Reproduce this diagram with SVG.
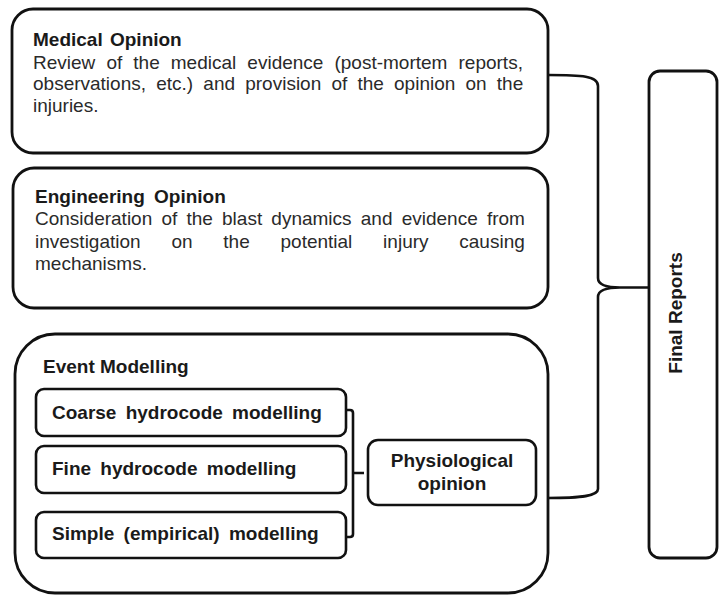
<svg xmlns="http://www.w3.org/2000/svg" width="719" height="595" viewBox="0 0 719 595">
<style>
.box{fill:#fff;stroke:#111;stroke-width:2.8}
.sub{fill:#fff;stroke:#111;stroke-width:2.6}
.con{fill:none;stroke:#111;stroke-width:2.6;stroke-linejoin:round}
text{font-family:"Liberation Sans",Arial,sans-serif;font-size:19px}
.t{font-weight:bold;fill:#1a1a1a}
.b{fill:#2a2a2a}
</style>
<rect width="719" height="595" fill="#fff"/>
<g id="medical">
<rect class="box" x="12" y="9" width="536" height="144" rx="21"/>
<text class="t" x="33" y="45.5" word-spacing="2">Medical Opinion</text>
<text class="b" x="33" y="68.5" word-spacing="5.8">Review of the medical evidence (post-mortem reports,</text>
<text class="b" x="33" y="90" word-spacing="4.9">observations, etc.) and provision of the opinion on the</text>
<text class="b" x="33" y="111.5">injuries.</text>
</g>
<g id="engineering">
<rect class="box" x="13" y="168" width="535" height="140" rx="21"/>
<text class="t" x="35" y="202.5" word-spacing="4">Engineering Opinion</text>
<text class="b" x="35" y="225" word-spacing="3.9">Consideration of the blast dynamics and evidence from</text>
<text class="b" x="35" y="247.5" word-spacing="25.5">investigation on the potential injury causing</text>
<text class="b" x="35" y="270">mechanisms.</text>
</g>
<g id="event">
<rect class="box" x="15" y="334" width="533" height="259" rx="40"/>
<text class="t" x="43" y="373">Event Modelling</text>
</g>
<g id="coarse">
<rect class="sub" x="36" y="389" width="310" height="47" rx="8"/>
<text class="t" x="52" y="418.5" word-spacing="4">Coarse hydrocode modelling</text>
</g>
<g id="fine">
<rect class="sub" x="36" y="446" width="310" height="47" rx="8"/>
<text class="t" x="52" y="474.5" word-spacing="4">Fine hydrocode modelling</text>
</g>
<g id="simple">
<rect class="sub" x="36" y="512" width="310" height="46" rx="8"/>
<text class="t" x="52" y="540" word-spacing="4">Simple (empirical) modelling</text>
</g>
<g id="physiological">
<rect class="sub" x="368" y="440" width="168" height="65" rx="10"/>
<text class="t" x="452" y="467" text-anchor="middle">Physiological</text>
<text class="t" x="452" y="490" text-anchor="middle">opinion</text>
</g>
<g id="final">
<rect class="box" x="649" y="71" width="68" height="487" rx="11"/>
<text class="t" transform="translate(682,313) rotate(-90)" text-anchor="middle">Final Reports</text>
</g>
<g id="connectors">
<path class="con" d="M346,410 L350,410 Q353,410 353,413 L353,534 Q353,537 350,537 L346,537 M353,473 L364,473"/>
<path class="con" d="M548,75 C582,75 598,76 598,86 L598,278 C598,285 606,287.5 620,287.5 C606,287.5 598,290 598,297 L598,489 C598,496 582,498 548,498 M620,287.5 L649,287.5"/>
</g>
</svg>
